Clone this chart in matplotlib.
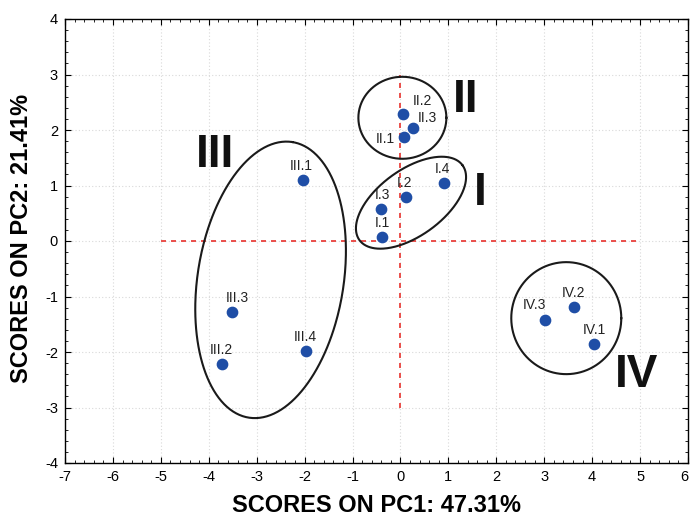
import numpy as np
import matplotlib
matplotlib.use("Agg")
import matplotlib.pyplot as plt
from matplotlib.ticker import MultipleLocator

plt.rcParams["axes.unicode_minus"] = False

# ---- data ----
labels = ["I.1", "I.2", "I.3", "I.4",
          "II.1", "II.2", "II.3",
          "III.1", "III.2", "III.3", "III.4",
          "IV.1", "IV.2", "IV.3"]
pc1 = [-0.38, 0.12, -0.40, 0.90,
       0.08, 0.06, 0.27,
       -2.04, -3.73, -3.52, -1.98,
       4.04, 3.62, 3.02]
pc2 = [0.07, 0.80, 0.57, 1.04,
       1.88, 2.28, 2.04,
       1.10, -2.22, -1.28, -1.98,
       -1.86, -1.19, -1.42]
group_names = ["I", "II", "III", "IV"]
xticks = list(range(-7, 7))
yticks = list(range(-4, 5))
xlabel = "SCORES ON PC1: 47.31%"
ylabel = "SCORES ON PC2: 21.41%"

# ---- styling / layout ----
W, H, DPI = 690, 519, 100
fig = plt.figure(figsize=(W / DPI, H / DPI), dpi=DPI)
ax = fig.add_axes([65 / W, (H - 463) / H, 623 / W, 444 / H])
ax.set_xlim(-7, 6)
ax.set_ylim(-4, 4)
sx = 623 / 13.0   # px per unit x
sy = 444 / 8.0    # px per unit y

font = ["Liberation Sans", "DejaVu Sans"]

ax.set_xticks(xticks)
ax.set_yticks(yticks)
ax.set_xticklabels([str(v) for v in xticks], family=font)
ax.set_yticklabels([str(v) for v in yticks], family=font)
ax.xaxis.set_minor_locator(MultipleLocator(0.2))
ax.yaxis.set_minor_locator(MultipleLocator(0.2))
ax.tick_params(which="both", direction="in", top=True, right=True, colors="black")
ax.tick_params(which="major", length=4, width=0.8, labelsize=10.5, pad=5)
ax.tick_params(which="minor", length=2, width=0.6)
ax.xaxis.get_major_ticks()[-1].label1.set_horizontalalignment("right")
ax.grid(True, which="major", color="#d9d9d9", linestyle=(0, (1, 2)), linewidth=0.8)
ax.set_axisbelow(True)
for s in ax.spines.values():
    s.set_linewidth(1.0)

# reference lines
ax.plot([-5, 5], [0, 0], color="#e8322d", linestyle=(0, (3, 3)), linewidth=1.2, zorder=2)
ax.plot([0, 0], [-3, 3], color="#e8322d", linestyle=(0, (3, 3)), linewidth=1.2, zorder=2)

# group ellipses (center in data units, semi-axes in px, angle deg)
ellipses = [
    ((0.22, 0.69), 63.7, 33.0, 36.0),
    ((0.04, 2.22), 44.0, 41.0, 0.0),
    ((-2.71, -0.70), 139.5, 73.0, 81.0),
    ((3.46, -1.39), 55.0, 56.0, 0.0),
]
t = np.linspace(0, 2 * np.pi, 400)
for (cx, cy), a, b, ang in ellipses:
    th = np.deg2rad(ang)
    ex = cx + (a * np.cos(th) * np.cos(t) - b * np.sin(th) * np.sin(t)) / sx
    ey = cy + (a * np.sin(th) * np.cos(t) + b * np.cos(th) * np.sin(t)) / sy
    ax.plot(ex, ey, color="#1a1a1a", linewidth=1.5, zorder=3)

# points
ax.scatter(pc1, pc2, s=55, color="#1f4ea6", edgecolors="#1f4ea6", zorder=5)

# point labels (offsets in points)
offsets = {
    "I.1": (0, 10), "I.2": (-1, 10), "I.3": (1, 10), "I.4": (-1, 10),
    "II.1": (-14, -2), "II.2": (14, 10), "II.3": (10, 7),
    "III.1": (-1, 10), "III.2": (0, 10), "III.3": (4, 10), "III.4": (0, 10),
    "IV.1": (0, 10), "IV.2": (0, 10), "IV.3": (-8, 11),
}
for lab, x, y in zip(labels, pc1, pc2):
    dx, dy = offsets[lab]
    ax.annotate(lab, (x, y), xytext=(dx, dy), textcoords="offset points",
                ha="center", va="center", fontsize=10, family=font, color="#222222",
                zorder=6)

# group numerals (position in data units)
numeral_pos = [(1.67, 0.86), (1.36, 2.54), (-3.86, 1.55), (4.93, -2.41)]
for name, (x, y) in zip(group_names, numeral_pos):
    ax.text(x, y, name, fontsize=33, fontweight="bold", ha="center", va="center",
            family=["Liberation Sans Narrow", "Liberation Sans", "DejaVu Sans"],
            color="#111111", zorder=6)

fig.text(377 / W, 1 - 506 / H, xlabel, ha="center", va="center", fontsize=17,
         fontweight="bold", family=font)
fig.text(22 / W, 1 - 238 / H, ylabel, ha="center", va="center", fontsize=17,
         fontweight="bold", family=font, rotation=90)

fig.savefig("out.png", dpi=DPI)
